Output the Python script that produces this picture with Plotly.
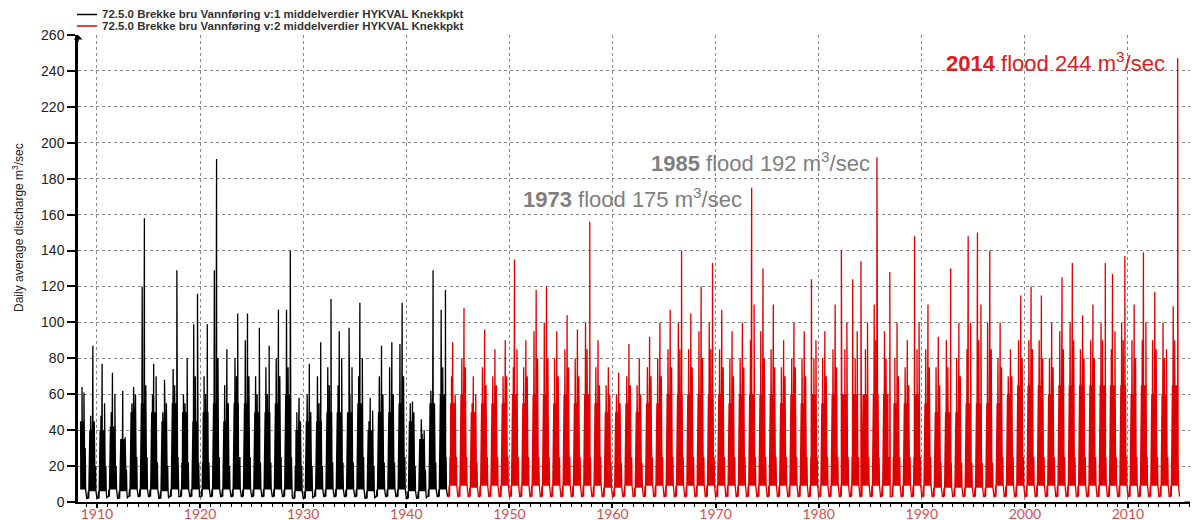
import plotly.graph_objects as go

# ---------------- data ----------------
years = list(range(1908, 2016))

# annual highest daily value (m3/s)
peak = [64, 87, 77, 72, 62, 64, 158, 77, 68, 129, 80, 116, 99, 191, 85, 105, 105, 97, 87, 107,
        140, 58, 77, 89, 113, 95, 97, 111, 58, 87, 89, 111, 56, 46, 129, 118,
        89, 108, 70, 96, 85, 90, 135, 90, 118, 120, 95, 104, 96, 156, 90, 75, 72, 88, 80, 92,
        100, 107, 140, 105, 120, 133, 107, 95, 100, 175, 130, 110, 90, 100, 95, 124, 95, 110,
        140, 124, 134, 192, 128, 100, 90, 148, 110, 92, 130, 100, 148, 150, 140, 100, 85, 115,
        120, 115, 100, 125, 133, 104, 110, 133, 127, 137, 110, 139, 117, 100, 247, 60]
# time of that peak inside the year (fraction of year)
peak_at = [.55, .6, .5, .5, .5, .55, .6, .5, .55, .75, .75, .75, .7, .6, .6, .65, .6, .75, .7, .6,
           .75, .6, .6, .7, .7, .5, .45, .5, .5, .6, .6, .6, .6, .45, .6, .8,
           .5, .6, .5, .6, .6, .6, .5, .6, .6, .6, .6, .6, .6, .8, .6, .6, .6, .6, .6, .6,
           .6, .6, .7, .6, .6, .7, .6, .6, .6, .5, .6, .6, .6, .6, .6, .3, .6, .6,
           .2, .3, .1, .65, .9, .6, .6, .3, .6, .6, .8, .6, .5, .4, .6, .6, .6, .6,
           .6, .6, .6, .6, .6, .6, .6, .8, .5, .7, .6, .5, .6, .4, .82, .1]
# second highest spike of the year
peak2 = [61, 48, 55, 60, 36, 60, 120, 70, 55, 74, 60, 99, 70, 129, 65, 80, 90, 70, 75, 80,
         107, 50, 60, 70, 75, 80, 75, 80, 51, 70, 75, 88, 55, 40, 62, 107,
         60, 80, 60, 75, 70, 70, 85, 75, 95, 100, 80, 85, 80, 100, 75, 65, 60, 70, 65, 75,
         80, 85, 100, 85, 95, 100, 85, 80, 80, 110, 95, 85, 75, 80, 80, 90, 80, 85,
         100, 95, 100, 110, 95, 80, 75, 100, 85, 75, 90, 80, 100, 110, 100, 80, 70, 90,
         90, 90, 80, 95, 100, 85, 90, 100, 95, 100, 90, 100, 90, 85, 109, 40]
# third spike of the year
peak3 = [50, 45, 48, 50, 30, 55, 65, 60, 50, 65, 55, 70, 60, 80, 55, 70, 70, 60, 60, 70,
         75, 45, 50, 55, 65, 65, 60, 70, 45, 60, 60, 70, 50, 38, 55, 75,
         70, 75, 55, 65, 65, 70, 75, 70, 80, 80, 70, 75, 70, 85, 65, 60, 55, 65, 60, 70,
         70, 75, 85, 75, 80, 85, 75, 70, 75, 90, 80, 75, 70, 75, 70, 80, 70, 75,
         85, 80, 85, 90, 80, 70, 65, 85, 75, 65, 75, 70, 85, 90, 85, 75, 70, 80,
         85, 80, 75, 85, 90, 80, 80, 90, 85, 90, 80, 90, 85, 80, 90, 35]
# top of the dense summer band
block = [45, 40, 40, 42, 35, 50, 55, 50, 45, 55, 50, 45, 50, 55, 45, 55, 55, 50, 50, 55,
         60, 40, 45, 45, 50, 50, 50, 55, 40, 50, 50, 55, 45, 35, 55, 60,
         55, 60, 50, 55, 55, 55, 60, 55, 60, 60, 55, 60, 55, 60, 55, 50, 50, 55, 50, 55,
         55, 60, 60, 60, 60, 60, 60, 55, 60, 60, 60, 60, 55, 60, 55, 60, 55, 60,
         60, 60, 60, 60, 60, 55, 55, 60, 55, 50, 50, 50, 55, 55, 55, 55, 60, 65,
         65, 65, 60, 65, 65, 65, 65, 65, 65, 65, 60, 65, 60, 60, 65, 35]
# middle level of the summer oscillations
trough = [30, 20, 20, 20, 18, 25, 25, 22, 20, 25, 22, 22, 22, 25, 20, 25, 25, 22, 22, 25,
          25, 20, 20, 20, 22, 22, 22, 25, 20, 22, 22, 25, 20, 18, 22, 25,
          25, 25, 22, 25, 25, 25, 25, 25, 25, 25, 25, 25, 25, 25, 25, 22, 22, 25, 22, 25,
          25, 25, 25, 25, 25, 25, 25, 25, 25, 25, 25, 25, 25, 25, 25, 25, 25, 25,
          25, 25, 25, 25, 25, 25, 25, 25, 25, 22, 22, 22, 22, 22, 22, 25, 25, 25,
          25, 25, 25, 25, 25, 25, 25, 25, 25, 25, 25, 25, 25, 25, 25, 20]
# small low-flow bumps
winter = [7, 6, 6, 7, 6, 7, 7, 7, 6, 7, 7, 7, 7, 7, 7, 7, 7, 7, 7, 7,
          7, 6, 6, 7, 7, 7, 7, 7, 6, 7, 7, 7, 6, 6, 7, 7,
          9, 9, 8, 9, 9, 9, 9, 9, 9, 9, 9, 9, 9, 9, 9, 8, 8, 9, 8, 9,
          9, 9, 9, 9, 9, 9, 9, 9, 9, 9, 9, 9, 9, 9, 9, 9, 9, 9,
          9, 9, 9, 9, 9, 9, 9, 9, 9, 8, 8, 8, 8, 8, 8, 9, 9, 9,
          9, 9, 9, 9, 9, 9, 9, 9, 9, 9, 9, 9, 9, 9, 9, 8]
# winter base flow
low = [3, 2, 2, 3, 2, 3, 3, 3, 2, 3, 3, 3, 3, 3, 3, 3, 3, 3, 3, 3,
       3, 2, 2, 3, 3, 3, 3, 3, 2, 3, 3, 3, 2, 2, 3, 3,
       3, 3, 3, 3, 3, 3, 3, 3, 3, 3, 3, 3, 3, 3, 3, 3, 3, 3, 3, 3,
       3, 3, 3, 3, 3, 3, 3, 3, 3, 3, 3, 3, 3, 3, 3, 3, 3, 3,
       3, 3, 3, 3, 3, 3, 3, 3, 3, 3, 3, 3, 3, 3, 3, 3, 3, 3,
       3, 3, 3, 3, 3, 3, 3, 3, 3, 3, 3, 3, 3, 3, 3, 3]

series_names = ["72.5.0 Brekke bru Vannføring v:1 middelverdier HYKVAL Knekkpkt",
                "72.5.0 Brekke bru Vannføring v:2 middelverdier HYKVAL Knekkpkt"]
series_split = 1944.0          # v:1 (black) ends, v:2 (red) starts
data_start, data_end = 1908.40, 2015.05

flood_labels = [("1973", " flood 175 m<sup>3</sup>/sec"),
                ("1985", " flood 192 m<sup>3</sup>/sec"),
                ("2014", " flood 244 m<sup>3</sup>/sec")]
y_title = "Daily average discharge m<sup>3</sup>/sec"
x_ticks = list(range(1910, 2011, 10))
y_ticks = list(range(0, 261, 20))

# --------------- assemble the hydrograph from the yearly readings ---------------
# order in which the yearly readings appear inside a year
season = [(0.00, "low"), (0.10, "low"), (0.16, "winter"), (0.20, "low"), (0.24, "trough"),
          (0.27, "winter"), (0.31, "block"), (0.335, "winter"), (0.36, "block"), (0.385, "trough"),
          (0.41, "block"), (0.435, "winter"), (0.46, "block"), (0.485, "trough"), (0.51, "block"),
          (0.535, "winter"), (0.56, "block"), (0.585, "trough"), (0.61, "block"), (0.635, "winter"),
          (0.66, "block"), (0.685, "trough"), (0.71, "block"), (0.735, "winter"), (0.76, "block"),
          (0.79, "trough"), (0.82, "winter"), (0.86, "trough"), (0.90, "winter"), (0.94, "low")]
spike_slots = [0.385, 0.535, 0.735]

xs, ys = [], []
for i, yr in enumerate(years):
    vals = {"low": low[i], "winter": winter[i], "trough": trough[i], "block": block[i]}
    pts = [(f, vals[k]) for f, k in season]
    pts.append((peak_at[i], peak[i]))
    free = sorted(spike_slots, key=lambda s: -abs(s - peak_at[i]))[:2]
    pts.append((free[0], peak2[i]))
    pts.append((free[1], peak3[i]))
    pts.sort()
    for f, v in pts:
        t = yr + f
        if data_start <= t <= data_end:
            xs.append(t)
            ys.append(v)

nb = sum(1 for t in xs if t <= series_split)
bx, by = xs[:nb], ys[:nb]
rx, ry = [bx[-1]] + xs[nb:], [by[-1]] + ys[nb:]

# ---------------- figure ----------------
# reference-picture pixel frame; the page body adds an 8 px offset
OFF = 8
PW, PH = 1198, 520
L, R, T, B = 78, 1195, 35, 502          # plot area in reference pixels


def px(xp):
    return (xp - L) / (R - L)


def py(yp):
    return (B - yp) / (B - T)


fig = go.Figure()
fig.add_trace(go.Scatter(x=bx, y=by, mode="lines", name=series_names[0],
                         line=dict(color="#000000", width=1.3), showlegend=False))
fig.add_trace(go.Scatter(x=rx, y=ry, mode="lines", name=series_names[1],
                         line=dict(color="#e00000", width=1.3), showlegend=False))

fig.update_layout(
    width=PW - OFF, height=PH - OFF,
    margin=dict(l=L - OFF, r=PW - R, t=T - OFF, b=PH - B, autoexpand=False),
    paper_bgcolor="white", plot_bgcolor="white",
    font=dict(family="Liberation Sans, Arial", color="#222222"),
    showlegend=False,
    yaxis2=dict(overlaying="y", range=[0, 260], tickmode="array", tickvals=y_ticks,
                showticklabels=False, ticks="inside", ticklen=4, tickwidth=2, tickcolor="black",
                showgrid=False, zeroline=False, showline=False, automargin=False),
)
fig.update_xaxes(
    range=[1908.16, 2016.5], tickmode="array", tickvals=x_ticks,
    ticktext=[str(v) for v in x_ticks], automargin=False,
    tickfont=dict(family="Lato, Carlito, sans-serif", size=14, color="#d4504c"),
    ticks="outside", ticklen=4, tickwidth=1.5, tickcolor="black", ticklabelstandoff=-6,
    minor=dict(dtick=1, tick0=1910, ticks="outside", ticklen=3, tickwidth=1, tickcolor="black",
               showgrid=False),
    showline=True, linecolor="black", linewidth=1.5,
    showgrid=True, gridcolor="#8a8a8a", griddash="dot", gridwidth=1,
    zeroline=False,
)
fig.update_yaxes(
    selector=dict(anchor="x"),
    range=[0, 260], tickmode="array", tickvals=y_ticks, automargin=False,
    tickfont=dict(family="Liberation Sans, Arial", size=14, color="#222222"),
    ticks="outside", ticklen=8, tickwidth=2, tickcolor="black",
    showline=True, linecolor="black", linewidth=2.5,
    showgrid=True, gridcolor="#8a8a8a", griddash="dot", gridwidth=1,
    zeroline=False,
)
fig.layout.yaxis.update(range=[0, 260], tickmode="array", tickvals=y_ticks, automargin=False,
                        tickfont=dict(family="Liberation Sans, Arial", size=14, color="#222222"),
                        ticks="outside", ticklen=8, tickwidth=2, tickcolor="black",
                        showline=True, linecolor="black", linewidth=2.5,
                        showgrid=True, gridcolor="#8a8a8a", griddash="dot", gridwidth=1,
                        zeroline=False)

# axis arrows
fig.add_annotation(x=1, y=0, xref="paper", yref="paper", ax=-12, ay=0, text="",
                   showarrow=True, arrowhead=1, arrowsize=1, arrowwidth=1.2, arrowcolor="black")
fig.add_annotation(x=0, y=1, xref="paper", yref="paper", ax=0, ay=8, text="",
                   showarrow=True, arrowhead=1, arrowsize=1, arrowwidth=1.5, arrowcolor="black")

# legend drawn at the top-left
for name, col, yl in [(series_names[0], "#000000", 14.5), (series_names[1], "#e00000", 26)]:
    fig.add_shape(type="line", xref="paper", yref="paper", x0=px(77), x1=px(97), y0=py(yl), y1=py(yl),
                  line=dict(color=col, width=1.5))
    fig.add_annotation(x=px(100), y=py(yl), xref="paper", yref="paper", xanchor="left", yanchor="middle",
                       text="<b>" + name + "</b>", showarrow=False,
                       font=dict(family="Liberation Sans, Arial", size=11.5, color="#333333"))

# y-axis title
fig.add_annotation(x=px(18), y=py(228), xref="paper", yref="paper", textangle=-90,
                   text=y_title, showarrow=False, xanchor="center", yanchor="middle",
                   font=dict(family="Liberation Sans, Arial", size=12, color="#222222"))

# flood labels
for (yr, rest), (cx, cy, col) in zip(flood_labels, [(632, 198, "#7f7f7f"), (760, 162, "#7f7f7f"),
                                                    (1055, 62, "#dc1e1e")]):
    fig.add_annotation(x=px(cx), y=py(cy), xref="paper", yref="paper", xanchor="center", yanchor="middle",
                       text="<b>" + yr + "</b>" + rest, showarrow=False,
                       font=dict(family="Liberation Sans, Arial", size=22, color=col))

fig.write_html("out.html")
